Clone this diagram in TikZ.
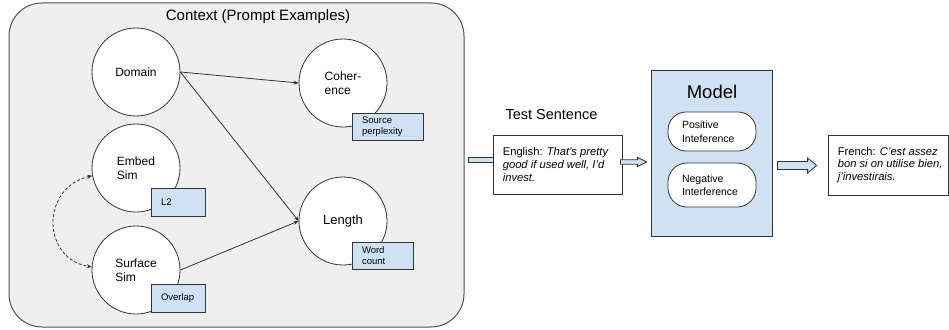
\documentclass[tikz,border=0pt]{standalone}
\usepackage{fontspec}
\setmainfont{Liberation Sans}
\usetikzlibrary{arrows.meta,calc}
\definecolor{ctxfill}{HTML}{EFEFEF}
\definecolor{lblue}{HTML}{CFE2F3}
\definecolor{edgec}{HTML}{333333}
\pgfdeclarelayer{bg}\pgfsetlayers{bg,main}
\tikzset{
  factor/.style={circle, draw=edgec, fill=white, line width=0.8pt, minimum size=88pt, inner sep=0pt, align=left, font=\fontsize{12}{14}\selectfont},
  tag/.style={draw=edgec, fill=lblue, line width=0.8pt, align=left, inner xsep=10pt, inner ysep=0pt, font=\fontsize{9.5}{11}\selectfont},
  sentbox/.style={draw=edgec, fill=white, line width=0.8pt, inner sep=0pt},
  senttext/.style={anchor=west, align=left, inner sep=0pt, font=\fontsize{11.2}{12.6}\selectfont},
  pill/.style={draw=edgec, fill=white, line width=0.8pt, align=left, inner xsep=14pt, inner ysep=0pt, minimum width=88pt, text width=60pt, font=\fontsize{10.5}{13.5}\selectfont},
  conn/.style={draw=edgec, line width=0.8pt, -{Stealth[length=5pt,width=4pt]}},
  blockarrow/.style n args={3}{draw=edgec, fill=lblue, line width=0.8pt,
    to path={let \p1=(\tikztostart), \p2=(\tikztotarget) in
      (\x1,{\y1+#1}) -- ({\x2-#3},{\y1+#1}) -- ({\x2-#3},{\y1+#2}) -- (\x2,\y1)
      -- ({\x2-#3},{\y1-#2}) -- ({\x2-#3},{\y1-#1}) -- (\x1,{\y1-#1}) -- cycle}}
}
\begin{document}
\begin{tikzpicture}[x=1pt,y=-1pt]
\useasboundingbox (0,0) rectangle (949,329);
% context box
\node[draw=edgec!85, fill=ctxfill, line width=1pt, rounded corners=33pt, minimum width=455pt, minimum height=324pt, inner sep=0pt] (ctx) at (236.5,165) {};
\node[font=\fontsize{15}{17}\selectfont] (ctxtitle) at (258,17) {Context (Prompt Examples)};
% factors
\node[factor] (domain) at (136,72) {Domain};
\node[factor] (coh) at (343,83) {Coher-\\ence};
\node[factor] (embed) at (136,168) {Embed\\Sim};
\node[factor] (surf) at (136,270) {Surface\\Sim};
\node[factor, font=\fontsize{13}{15}\selectfont] (len) at (343,221) {Length};
% tags
\node[tag, text width=51pt, minimum height=27pt] (sp) at (387.5,126.5) {Source\\perplexity};
\node[tag, text width=34pt, minimum height=28pt] (l2) at (178,202) {L2};
\node[tag, text width=34pt, minimum height=28pt] (ov) at (178,298) {Overlap};
\node[tag, text width=41pt, minimum height=27pt] (wc) at (382.5,255.5) {Word\\count};
% connectors
\draw[conn] (domain.east) -- (coh.west);
\draw[conn] (domain.east) -- (len.west);
\draw[conn] (surf.east) -- (len.west);
\draw[draw=edgec, line width=0.8pt, dash pattern=on 3pt off 2pt, {Stealth[length=5pt,width=4pt]}-{Stealth[length=5pt,width=4pt]}]
  (embed.190) .. controls +(-52,12) and +(-50,-8) .. (surf.176);
% right side
\node[font=\fontsize{14.5}{17}\selectfont] (ts) at (551.5,115) {Test Sentence};
\node[sentbox, minimum width=129pt, minimum height=59pt] (eng) at (557.5,164.5) {};
\node[senttext] (engtext) at ([xshift=10pt]eng.west)
  {English: \textit{That's pretty}\\\textit{good if used well, I'd}\\\textit{invest.}};
\node[draw=edgec, fill=lblue, line width=0.8pt, minimum width=121pt, minimum height=166pt, inner sep=0pt] (model) at (711.5,153) {};
\node[font=\fontsize{18.5}{21}\selectfont] (mtitle) at (712,92) {Model};
\node[pill, minimum height=39pt, rounded corners=18pt] (pos) at (712,131.5) {Positive\\Inteference};
\node[pill, minimum height=44pt, rounded corners=19pt] (neg) at (712,185) {Negative\\Interference};
\node[sentbox, minimum width=120pt, minimum height=60pt] (fr) at (888,165) {};
\node[senttext] (frtext) at ([xshift=10pt]fr.west)
  {French: \textit{C'est assez}\\\textit{bon si on utilise bien,}\\\textit{j'investirais.}};
% block arrows
\begin{pgfonlayer}{bg}
\draw[blockarrow={2.5pt}{5pt}{6pt}] ([xshift=4pt,yshift=5pt]ctx.east) to ([xshift=10pt,yshift=4.5pt]eng.west);
\end{pgfonlayer}
\draw[blockarrow={2.2pt}{4.5pt}{9pt}] ([xshift=-2pt,yshift=2.5pt]eng.east) to ([xshift=-4pt,yshift=-9pt]model.west);
\draw[blockarrow={4pt}{7.5pt}{9pt}] ([xshift=5pt,yshift=-12.5pt]model.east) to ([xshift=-11pt,yshift=-0.5pt]fr.west);
\end{tikzpicture}
\end{document}
